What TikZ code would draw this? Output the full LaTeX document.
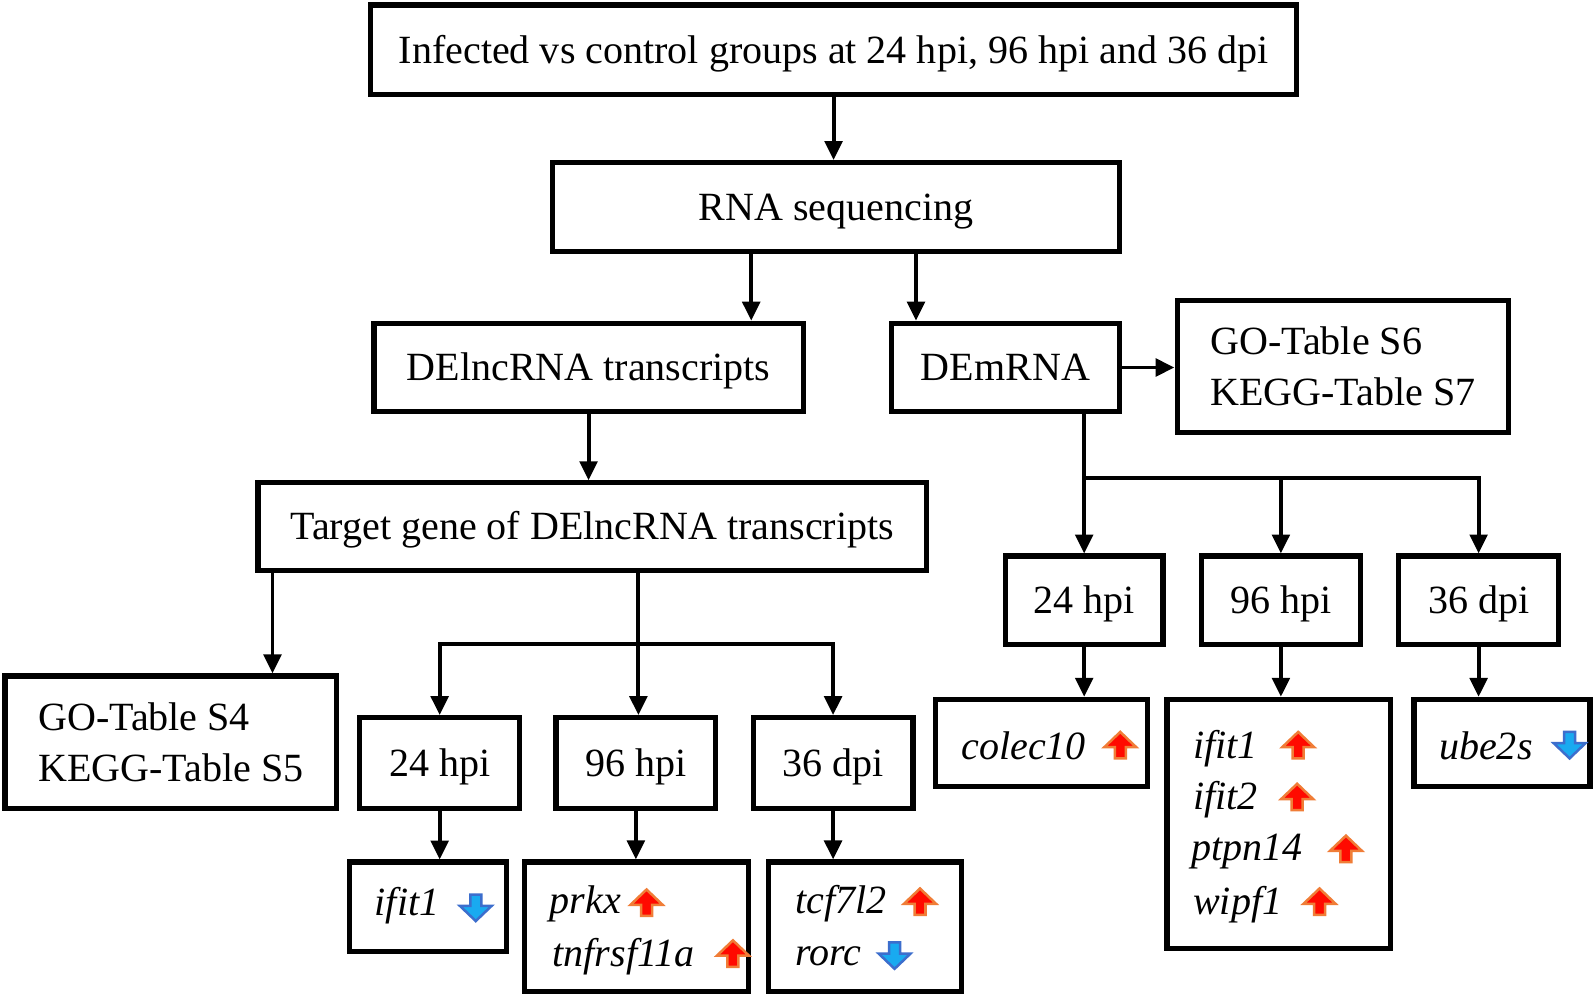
\documentclass[tikz,border=0pt]{standalone}
\usepackage{fontspec}
\setmainfont{Liberation Serif}
\usetikzlibrary{calc}
\usetikzlibrary{arrows.meta}

\definecolor{upfill}{RGB}{255,10,0}
\definecolor{upedge}{RGB}{240,125,55}
\definecolor{dnfill}{RGB}{25,170,240}
\definecolor{dnedge}{RGB}{60,110,205}

\begin{document}
\begin{tikzpicture}[x=0.01cm, y=-0.01cm]
  %--------------------------------------------
  % Espessuras das linhas
  %--------------------------------------------
  \def\bw{1.45pt}  % contorno dos blocos
  \def\lw{1.1pt}   % conectores

  %--------------------------------------------
  % Estilos
  %--------------------------------------------
  \tikzstyle{block} = [
    draw, fill=white, rectangle, line width=\bw,  % contorno grosso
    inner sep=0pt, font=\fontsize{11.2}{14.3}\selectfont
  ]
  \tikzstyle{linha} = [text height=10pt, text depth=2.6pt]  % texto de uma linha
  \tikzstyle{gene} = [anchor=west, inner sep=0pt,
    font=\fontsize{11.2}{14.3}\selectfont\itshape]
  \tikzstyle{seta} = [line width=\lw, -{Triangle[width=4.9pt,length=5.3pt]}]

  %--------------------------------------------
  % Setas de expressão (sobe / desce)
  %--------------------------------------------
  \tikzset{
    upmark/.pic={
      \path[draw=upedge, fill=upfill, line width=0.7pt]
        (-0.054cm,-0.13cm) -- (0.054cm,-0.13cm) -- (0.054cm,-0.02cm)
        -- (0.157cm,-0.02cm) -- (0cm,0.13cm) -- (-0.157cm,-0.02cm)
        -- (-0.054cm,-0.02cm) -- cycle;
    },
    downmark/.pic={
      \path[draw=dnedge, fill=dnfill, line width=0.7pt]
        (-0.054cm,0.13cm) -- (0.054cm,0.13cm) -- (0.054cm,0.02cm)
        -- (0.157cm,0.02cm) -- (0cm,-0.13cm) -- (-0.157cm,0.02cm)
        -- (-0.054cm,0.02cm) -- cycle;
    }
  }

  \useasboundingbox (0,0) rectangle (1568,981);

  %--------------------------------------------
  % Blocos principais
  %--------------------------------------------
  \node[block, linha, minimum width=9.10cm, minimum height=0.88cm] (top) at (820,49)
    {Infected vs control groups at 24 hpi, 96 hpi and 36 dpi};
  \node[block, linha, minimum width=5.57cm, minimum height=0.87cm] (rna) at (822.5,203.5)
    {RNA sequencing};
  \node[block, linha, minimum width=4.22cm, minimum height=0.87cm] (lnc) at (579,361.5)
    {DElncRNA transcripts};
  \node[block, linha, minimum width=2.24cm, minimum height=0.87cm] (mrna) at (989,361.5)
    {DEmRNA};
  \node[block, minimum width=3.26cm, minimum height=1.29cm, align=left] (gom) at (1321,360.5)
    {GO-Table S6\\KEGG-Table S7};
  \node[block, linha, minimum width=6.57cm, minimum height=0.86cm] (target) at (582.5,518)
    {Target gene of DElncRNA transcripts};
  \node[block, minimum width=3.26cm, minimum height=1.30cm, align=left] (gol) at (168,730)
    {GO-Table S4\\KEGG-Table S5};

  %--------------------------------------------
  % Tempos (lncRNA e mRNA)
  %--------------------------------------------
  \node[block, linha, minimum width=1.57cm, minimum height=0.89cm] (lh24) at (432.5,750.5) {24 hpi};
  \node[block, linha, minimum width=1.57cm, minimum height=0.89cm] (lh96) at (625.5,750.5) {96 hpi};
  \node[block, linha, minimum width=1.57cm, minimum height=0.89cm] (ld36) at (819.5,750.5) {36 dpi};
  \node[block, linha, minimum width=1.55cm, minimum height=0.87cm] (mh24) at (1066.5,590.5) {24 hpi};
  \node[block, linha, minimum width=1.56cm, minimum height=0.87cm] (mh96) at (1260,590.5) {96 hpi};
  \node[block, linha, minimum width=1.57cm, minimum height=0.87cm] (md36) at (1454.5,590.5) {36 dpi};

  %--------------------------------------------
  % Caixas dos genes
  %--------------------------------------------
  \node[block, minimum width=1.54cm, minimum height=0.88cm] (lg24) at (421,892) {};
  \node[block, minimum width=2.20cm, minimum height=1.27cm] (lg96) at (626,911.5) {};
  \node[block, minimum width=1.90cm, minimum height=1.27cm] (lg36) at (851,911.5) {};
  \node[block, minimum width=2.09cm, minimum height=0.86cm] (mg24) at (1024.5,731) {};
  \node[block, minimum width=2.20cm, minimum height=2.45cm] (mg96) at (1258,810.5) {};
  \node[block, minimum width=1.73cm, minimum height=0.86cm] (mg36) at (1477.5,731) {};

  % nomes dos genes
  \foreach [count=\i] \gx/\gy/\txt in {368/891/ifit1, 540/889/prkx, 543/941/tnfrsf11a,
    782/889/tcf7l2, 782/941/rorc, 945/734/colec10, 1173/736/ifit1, 1173/787/ifit2,
    1171/838/ptpn14, 1173/890/wipf1, 1415/734/ube2s}
  {
    \node[gene] (g\i) at (\gx,\gy) {\txt};
  }

  % setas de expressão
  \foreach \px/\py in {636/888, 721/938, 905/887, 1102/733, 1277/733,
    1276/784, 1324/835, 1298/887}
    \pic at (\px,\py) {upmark};
  \foreach \px/\py in {468/893, 880/940, 1544/733}
    \pic at (\px,\py) {downmark};

  %--------------------------------------------
  % Conectores
  %--------------------------------------------
  \draw[seta] (top.south) -- (top.south |- rna.north);
  \draw[seta] ([xshift=-0.835cm]rna.south) -- ([xshift=-0.835cm]rna.south |- lnc.north);
  \draw[seta] ([xshift=0.785cm]rna.south) -- ([xshift=0.785cm]rna.south |- mrna.north);
  \draw[seta] (mrna.east) -- (mrna.east -| gom.west);
  \draw[seta] (lnc.south) -- (lnc.south |- target.north);
  \draw[seta] ([xshift=1cm]gol.north |- target.south) -- ([xshift=1cm]gol.north);

  % ramificação lncRNA
  \coordinate (lbar) at ($([xshift=0.025cm]target.south -| lh96.north)!0.5!([xshift=0.025cm]lh96.north)$);
  \draw[seta] ([xshift=0.025cm]target.south -| lh96.north) -- ([xshift=0.025cm]lh96.north);
  \draw[seta] (lbar) -| (lh24.north);
  \draw[seta] (lbar) -| (ld36.north);

  % ramificação mRNA
  \coordinate (mbar) at ($(mrna.south -| mh24.north)!0.46!(mh24.north)$);
  \draw[seta] (mrna.south -| mh24.north) -- (mh24.north);
  \draw[seta] (mbar) -| (mh96.north);
  \draw[seta] (mbar) -| (md36.north);

  % tempos para genes
  \foreach \a/\b in {lh24/lg24, lh96/lg96, ld36/lg36, mh24/mg24, mh96/mg96, md36/mg36}
    \draw[seta] (\a.south) -- (\a.south |- \b.north);
\end{tikzpicture}
\end{document}
